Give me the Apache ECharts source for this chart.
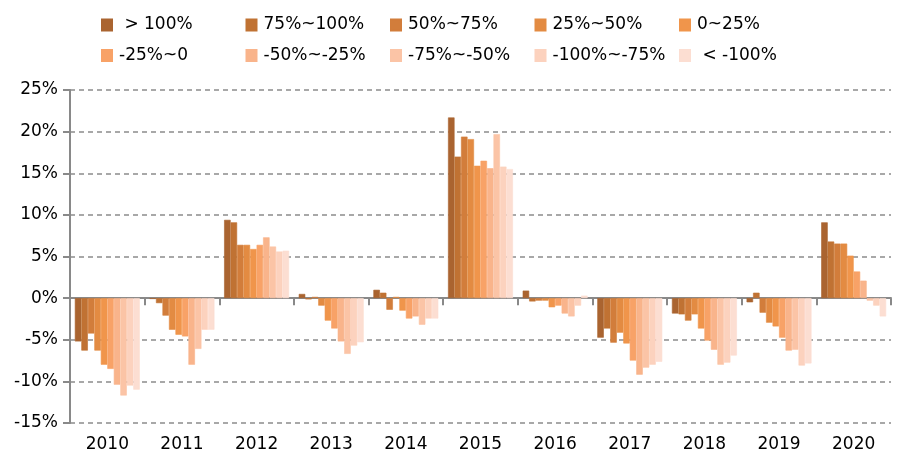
<!DOCTYPE html>
<html>
<head>
<meta charset="utf-8">
<script src="https://cdn.jsdelivr.net/npm/echarts@6/dist/echarts.min.js"></script>
<style>
html,body{margin:0;padding:0;background:#fff;}
#chart{width:905px;height:471px;}
</style>
</head>
<body>
<div id="chart"></div>
<script>
var years = ['2010','2011','2012','2013','2014','2015','2016','2017','2018','2019','2020'];
var seriesNames = [' > 100%','75%~100%','50%~75%','25%~50%','0~25%','-25%~0','-50%~-25%','-75%~-50%','-100%~-75%',' < -100%'];
var yTicks = {min: -15, max: 25, step: 5};

var sGt100   = [-5.2, -0.1, 9.4, 0.5, 1.0, 21.7, 0.9, -4.75, -1.85, -0.5, 9.1];
var s75to100 = [-6.3, -0.6, 9.1, -0.15, 0.65, 17.0, -0.4, -3.65, -1.95, 0.65, 6.8];
var s50to75  = [-4.25, -2.1, 6.4, 0.15, -1.4, 19.4, -0.3, -5.35, -2.7, -1.75, 6.55];
var s25to50  = [-6.3, -3.8, 6.4, -0.9, 0.15, 19.1, -0.3, -4.15, -1.95, -2.95, 6.55];
var s0to25   = [-8.0, -4.4, 5.9, -2.7, -1.5, 15.9, -1.1, -5.45, -3.65, -3.4, 5.1];
var sM25to0  = [-8.5, -4.6, 6.4, -3.65, -2.45, 16.5, -0.9, -7.5, -5.1, -4.75, 3.2];
var sM50toM25 = [-10.4, -8.0, 7.3, -5.2, -2.2, 15.6, -1.85, -9.2, -6.2, -6.3, 2.1];
var sM75toM50 = [-11.7, -6.1, 6.2, -6.7, -3.2, 19.7, -2.2, -8.35, -8.0, -6.2, -0.3];
var sM100toM75 = [-10.5, -3.8, 5.6, -5.7, -2.45, 15.8, -0.9, -8.0, -7.75, -8.1, -0.9];
var sLtM100  = [-11.0, -3.8, 5.7, -5.3, -2.45, 15.5, 0.3, -7.65, -6.9, -7.85, -2.2];

var allValues = [sGt100, s75to100, s50to75, s25to50, s0to25, sM25to0, sM50toM25, sM75toM50, sM100toM75, sLtM100];
var colors = ['#AA6430','#C07233','#D27D3B','#E38B42','#F0954B','#F8A267','#F9B48B','#FBC4A6','#FCD2BE','#FCDED2'];

var FONT = 'DejaVu Sans';
var legends = seriesNames.map(function(n, i){
  var col = i % 5, row = Math.floor(i / 5);
  return {
    data: [n],
    left: 101 + col * 144.5,
    top: 15 + row * 30.5,
    padding: 0,
    itemWidth: 10,
    itemHeight: 11,
    icon: 'rect',
    selectedMode: false,
    textStyle: {fontFamily: FONT, fontSize: 17, color: '#000', lineHeight: 20, padding: [0,0,0,2]}
  };
});

var series = seriesNames.map(function(n, i){
  return {
    name: n,
    type: 'bar',
    xAxisIndex: 0,
    data: allValues[i],
    itemStyle: {color: colors[i], borderColor: colors[i], borderWidth: 0.6},
    barGap: '0%',
    barCategoryGap: '13%',
    animation: false
  };
});

var chart = echarts.init(document.getElementById('chart'), null, {renderer: 'canvas'});
chart.setOption({
  animation: false,
  color: colors,
  legend: legends,
  grid: {left: 70, right: 14, top: 90, bottom: 48, containLabel: false},
  xAxis: [
    {
      type: 'category', data: years, position: 'bottom',
      axisLine: {show: false, onZero: false},
      axisTick: {show: false},
      axisLabel: {fontFamily: FONT, fontSize: 17, color: '#000', margin: 13},
      splitLine: {show: false}
    },
    {
      type: 'category', data: years, position: 'bottom',
      axisLine: {show: true, onZero: true, lineStyle: {color: '#898989', width: 2}},
      axisTick: {show: true, length: 7, lineStyle: {color: '#898989', width: 2}},
      axisLabel: {show: false},
      splitLine: {show: false}
    }
  ],
  yAxis: {
    type: 'value', min: yTicks.min, max: yTicks.max, interval: yTicks.step,
    axisLine: {show: true, lineStyle: {color: '#898989', width: 2}},
    axisTick: {show: true, length: 7, lineStyle: {color: '#898989', width: 2}},
    axisLabel: {fontFamily: FONT, fontSize: 17, color: '#000', margin: 12, formatter: '{value}%'},
    splitLine: {show: true, lineStyle: {color: '#8c8c8c', width: 1.5, type: [5, 4]}}
  },
  series: series
});
</script>
</body>
</html>
